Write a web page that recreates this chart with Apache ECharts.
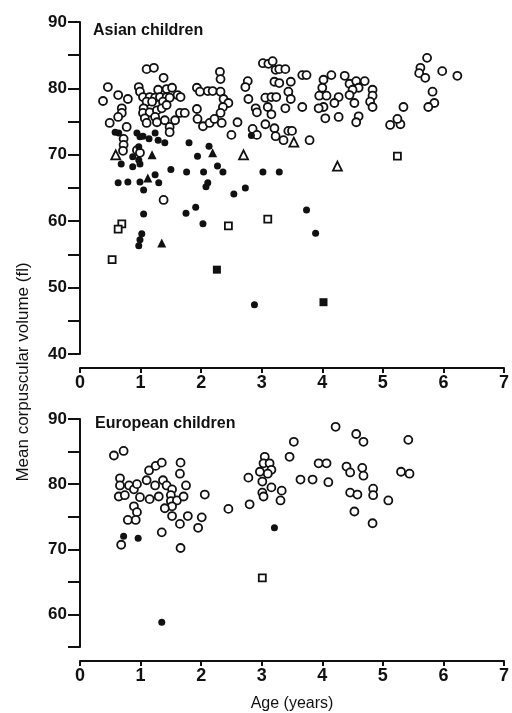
<!DOCTYPE html>
<html>
<head>
<meta charset="utf-8">
<script src="https://cdn.jsdelivr.net/npm/echarts@6/dist/echarts.min.js"></script>
<style>
  html, body { margin: 0; background: #fff; }
  #chart { width: 512px; height: 713px; }
</style>
</head>
<body>
<div id="chart"></div>
<script>
// [age (years), MCV (fl)]
var asianOpenCircle = [
  [1.10,82.9],[1.22,83.1],[1.38,81.6],[0.46,80.2],[0.38,78.1],[0.63,79.0],[0.79,78.4],[0.97,80.2],[0.99,79.5],[1.04,78.7],
  [1.29,79.8],[1.43,79.9],[1.52,80.1],[1.61,79.0],[1.15,78.7],[1.24,78.6],[1.32,78.7],[1.43,78.7],[1.10,78.0],[1.19,78.0],
  [1.37,78.0],[1.48,78.6],[1.05,77.0],[1.04,76.3],[1.15,76.4],[1.27,76.7],[1.35,77.0],[1.43,77.5],[1.07,75.5],[1.10,74.8],
  [1.24,75.7],[1.27,74.9],[1.40,75.2],[1.57,75.2],[1.48,74.2],[1.48,73.4],[1.65,76.3],[0.69,77.0],[0.69,76.3],[0.63,75.7],
  [0.49,74.8],[0.77,74.2],[0.72,72.4],[0.72,71.5],[0.71,70.6],[0.94,70.7],[0.99,70.3],[1.73,76.3],
  [2.31,82.5],[2.32,81.4],[2.77,81.1],[2.73,80.2],[1.93,80.1],[1.98,79.5],[2.11,79.6],[2.19,79.6],[2.32,79.5],[2.37,78.4],
  [2.45,77.8],[2.36,77.2],[2.32,76.3],[1.93,76.9],[1.94,75.4],[2.03,74.3],[2.14,74.8],[2.22,75.4],[2.34,74.8],[2.60,74.9],
  [2.50,73.0],[2.78,78.4],[1.66,78.7],
  [3.02,83.8],[3.11,83.7],[3.18,84.1],[3.23,82.8],[3.29,82.9],[3.39,82.9],[3.21,81.0],[3.29,80.8],[3.48,81.0],[3.06,78.6],
  [3.16,78.7],[3.24,78.7],[3.44,79.5],[3.48,78.4],[3.10,77.2],[3.39,77.0],[3.67,77.2],[3.16,76.1],[2.90,77.0],[2.92,76.4],
  [3.06,74.6],[3.21,74.0],[2.85,73.9],[2.92,73.0],[3.23,72.8],[3.36,72.2],[3.44,73.6],[3.50,73.6],[3.79,72.2],[3.67,82.0],
  [3.74,82.0],[4.02,81.3],[4.15,82.0],[4.37,81.9],[4.45,80.7],[4.56,81.1],[4.70,81.1],[4.60,80.1],[4.50,79.8],[4.45,79.0],
  [4.83,79.8],[4.83,78.9],[4.79,78.0],[4.83,77.2],[4.53,77.8],[4.00,80.1],[3.95,78.9],[4.07,78.9],[4.27,78.7],[4.20,77.8],
  [4.02,77.2],[3.94,77.0],[4.05,75.5],[4.27,75.7],[4.60,75.8],[4.56,74.9],[5.12,74.5],[5.29,74.6],[5.24,75.4],[5.34,77.2],
  [5.73,84.6],[5.62,83.1],[5.60,82.3],[5.70,81.6],[5.98,82.6],[6.23,81.9],[5.82,79.5],[5.85,77.8],[5.75,77.2],[1.38,63.2]
];
var asianFilledCircle = [
  [0.58,73.4],[0.64,73.3],[0.94,73.3],[0.99,72.7],[1.04,72.8],[1.14,72.4],[1.24,73.3],[1.29,72.2],[1.40,71.8],[1.80,71.8],
  [2.13,71.3],[0.97,71.2],[0.87,69.7],[0.97,69.2],[1.94,69.8],[0.68,68.6],[0.87,68.2],[0.99,68.6],[1.50,67.8],[1.76,67.4],
  [2.04,67.4],[2.27,68.3],[2.36,67.4],[1.24,67.0],[0.63,65.8],[0.79,65.9],[0.99,65.9],[1.30,65.8],[1.05,64.7],[2.11,65.8],
  [2.08,65.2],[2.54,64.1],[2.73,65.0],[1.05,61.1],[1.75,61.2],[1.91,62.1],[2.03,59.6],[1.02,58.1],[0.99,57.2],[0.97,56.3],
  [3.02,67.4],[3.29,67.4],[3.74,61.7],[3.89,58.2],[2.88,47.4],[2.83,72.9]
];
var asianFilledTriangle = [[1.19,70.0],[2.19,70.3],[1.12,66.5],[1.35,56.7]];
var asianOpenTriangle = [[0.59,70.0],[2.70,70.0],[3.53,71.9],[4.25,68.3]];
var asianOpenSquare = [[0.69,59.6],[0.63,58.8],[0.53,54.2],[2.45,59.3],[3.10,60.3],[5.24,69.8]];
var asianFilledSquare = [[2.26,52.7],[4.02,47.8]];

var euroOpenCircle = [
  [0.56,84.4],[0.72,85.1],[0.66,80.9],[0.66,79.8],[0.64,78.1],[0.74,78.3],[0.81,79.8],[0.89,79.2],[0.94,80.0],[0.99,78.0],
  [0.89,76.6],[0.94,75.7],[0.79,74.5],[0.92,74.5],[0.68,70.7],[1.10,80.6],[1.15,77.7],[1.14,82.1],[1.25,82.8],[1.35,83.3],
  [1.24,79.8],[1.30,78.1],[1.35,72.6],[1.37,80.6],[1.43,79.8],[1.52,79.2],[1.50,78.3],[1.50,77.4],[1.60,77.5],[1.52,76.6],
  [1.40,76.3],[1.52,75.1],[1.65,73.9],[1.66,83.3],[1.65,81.6],[1.75,79.8],[1.71,78.1],[1.78,75.1],[1.66,70.2],[1.95,73.3],
  [2.01,74.9],[2.06,78.4],[2.45,76.2],[2.78,81.0],[2.80,76.9],
  [3.05,84.2],[3.03,83.2],[3.13,83.2],[3.16,82.2],[2.97,81.9],[3.10,81.6],[3.01,80.4],[3.16,79.5],[3.33,79.0],[3.01,78.7],
  [3.03,78.1],[3.31,77.5],[3.46,84.2],[3.53,86.5],[3.64,80.7],[3.84,80.7],[3.94,83.2],[4.07,83.2],[4.10,80.3],[4.22,88.8],
  [4.56,87.7],[4.68,86.5],[4.40,82.7],[4.46,81.8],[4.66,82.5],[4.68,81.3],[4.46,78.7],[4.58,78.4],[4.53,75.8],[4.84,79.3],
  [4.84,78.3],[4.83,74.0],[5.09,77.5],[5.42,86.8],[5.30,81.9],[5.44,81.6]
];
var euroFilledCircle = [[0.72,72.0],[0.96,71.7],[3.21,73.3],[1.35,58.8]];
var euroOpenSquare = [[3.01,65.6]];

var FONT = '"Liberation Sans", Arial, sans-serif';
var INK = '#111';

var chart = echarts.init(document.getElementById('chart'));

function xAx(gi, name) {
  return {
    gridIndex: gi, type: 'value', min: 0, max: 7, interval: 1, offset: 14,
    name: name, nameLocation: 'middle', nameGap: 35,
    nameTextStyle: { fontFamily: FONT, fontSize: 16, color: INK },
    axisLine: { lineStyle: { color: INK, width: 2 } },
    axisTick: { length: 5, lineStyle: { color: INK, width: 2 } },
    axisLabel: { fontFamily: FONT, fontSize: 18, fontWeight: 'bold', color: INK, margin: 6 },
    splitLine: { show: false }
  };
}
function yAx(gi, min) {
  return {
    gridIndex: gi, type: 'value', min: min, max: 90, interval: 5,
    axisLine: { lineStyle: { color: INK, width: 2 } },
    axisTick: { length: 12, lineStyle: { color: INK, width: 2 } },
    axisLabel: {
      fontFamily: FONT, fontSize: 17, fontWeight: 'bold', color: INK, margin: 13,
      formatter: function (v) { return v % 10 === 0 ? v : ''; }
    },
    splitLine: { show: false }
  };
}
function sc(gi, data, symbol, size, open) {
  return {
    type: 'scatter', xAxisIndex: gi, yAxisIndex: gi, data: data,
    symbol: symbol, symbolSize: size, silent: true,
    itemStyle: open
      ? { color: '#fff', borderColor: INK, borderWidth: 1.8, opacity: 1 }
      : { color: INK, opacity: 1 }
  };
}

var option = {
  backgroundColor: '#fff',
  animation: false,
  title: [
    { text: 'Asian children', left: 93, top: 23, padding: 0,
      textStyle: { fontFamily: FONT, fontSize: 16, fontWeight: 'bold', color: INK } },
    { text: 'European children', left: 95, top: 416, padding: 0,
      textStyle: { fontFamily: FONT, fontSize: 16, fontWeight: 'bold', color: INK } }
  ],
  grid: [
    { left: 80, top: 22, width: 425, height: 332 },
    { left: 80, top: 419, width: 425, height: 230 }
  ],
  xAxis: [xAx(0, ''), xAx(1, 'Age (years)')],
  yAxis: [yAx(0, 40), yAx(1, 55)],
  graphic: [{
    type: 'text', x: 23, y: 372, rotation: Math.PI / 2,
    style: { text: 'Mean corpuscular volume (fl)', fontFamily: FONT, fontSize: 17,
      fill: INK, align: 'center', verticalAlign: 'middle' }
  }],
  series: [
    sc(0, asianOpenCircle, 'circle', 8, true),
    sc(0, asianFilledCircle, 'circle', 7, false),
    sc(0, asianOpenTriangle, 'triangle', 9, true),
    sc(0, asianFilledTriangle, 'triangle', 9, false),
    sc(0, asianOpenSquare, 'rect', 7, true),
    sc(0, asianFilledSquare, 'rect', 8, false),
    sc(1, euroOpenCircle, 'circle', 8, true),
    sc(1, euroFilledCircle, 'circle', 7, false),
    sc(1, euroOpenSquare, 'rect', 7, true)
  ]
};
chart.setOption(option);
window.addEventListener('resize', function () { chart.resize(); });
</script>
</body>
</html>
